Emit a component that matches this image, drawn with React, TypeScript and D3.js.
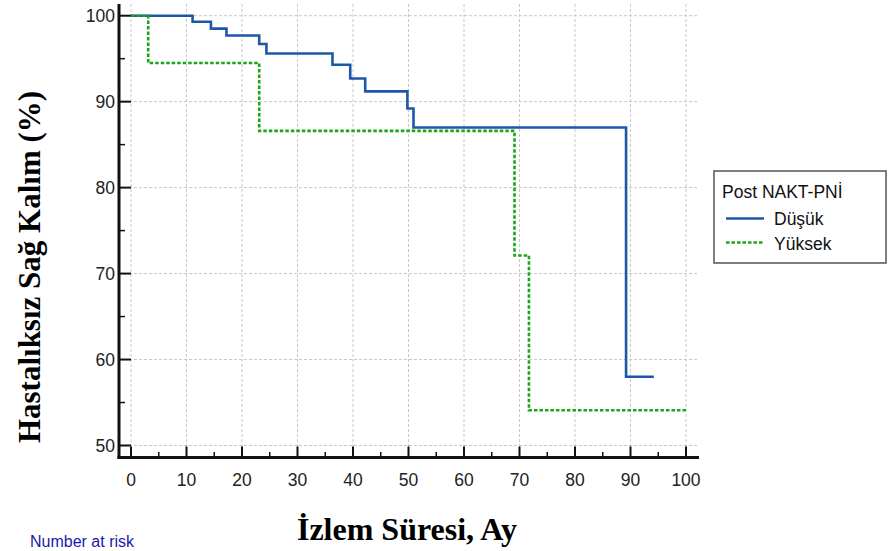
import React from "react";
import * as d3 from "d3";

// Kaplan-Meier step data (months, % survival)
const lowTimes = [0, 11.1, 14.4, 17.2, 23.1, 24.4, 36.3, 39.5, 42.2, 49.8, 50.9, 89.2, 94.2];
const lowValues = [100, 99.3, 98.5, 97.7, 96.7, 95.6, 94.3, 92.7, 91.2, 89.2, 87.0, 58.0, 58.0];
const highTimes = [0, 3.1, 23.1, 69.1, 71.7, 100];
const highValues = [100, 94.5, 86.6, 72.1, 54.1, 54.1];

const xTicks = [0, 10, 20, 30, 40, 50, 60, 70, 80, 90, 100];
const xMinor = [5, 15, 25, 35, 45, 55, 65, 75, 85, 95];
const yTicks = [50, 60, 70, 80, 90, 100];
const yMinor = [55, 65, 75, 85, 95];

const seriesNames = ["Düşük", "Yüksek"];
const legendTitle = "Post NAKT-PNİ";

const W = 890;
const H = 551;
const BLUE = "#1c58a8";
const GREEN = "#1ba51b";
const SANS = "'Liberation Sans', Arial, sans-serif";
const SERIF = "'Liberation Serif', 'Times New Roman', serif";

const App = () => {
    const x = d3.scaleLinear().domain([0, 100]).range([131, 686]);
    const y = d3.scaleLinear().domain([50, 100]).range([445.5, 15.7]);

    const axisX = 119;
    const axisY = 457.5;

    const step = d3
        .line<[number, number]>()
        .x((d) => x(d[0]))
        .y((d) => y(d[1]))
        .curve(d3.curveStepAfter);

    const lowPts = lowTimes.map((t, i) => [t, lowValues[i]] as [number, number]);
    const highPts = highTimes.map((t, i) => [t, highValues[i]] as [number, number]);

    return (
        <svg
            width={W}
            height={H}
            style={{ position: "absolute", left: 0, top: 0, background: "#fff" }}
        >
            {/* grid */}
            <g stroke="#c8c8c8" strokeWidth={1} strokeDasharray="3,2">
                {xTicks.map((t) => (
                    <line key={"gx" + t} x1={x(t)} x2={x(t)} y1={4} y2={axisY} />
                ))}
                {yTicks.map((t) => (
                    <line key={"gy" + t} x1={axisX} x2={697} y1={y(t)} y2={y(t)} />
                ))}
            </g>

            {/* axes */}
            <g stroke="#111" fill="none">
                <line x1={axisX} x2={axisX} y1={4} y2={axisY + 1.5} strokeWidth={3} />
                <line x1={axisX - 1.5} x2={699} y1={axisY} y2={axisY} strokeWidth={3} />
                {yTicks.map((t) => (
                    <line key={"ty" + t} x1={axisX} x2={131} y1={y(t)} y2={y(t)} strokeWidth={2} />
                ))}
                {yMinor.map((t) => (
                    <line key={"my" + t} x1={axisX} x2={125} y1={y(t)} y2={y(t)} strokeWidth={1.5} />
                ))}
                {xTicks.map((t) => (
                    <line key={"tx" + t} x1={x(t)} x2={x(t)} y1={axisY} y2={axisY - 11} strokeWidth={2} />
                ))}
                {xMinor.map((t) => (
                    <line key={"mx" + t} x1={x(t)} x2={x(t)} y1={axisY} y2={axisY - 5.5} strokeWidth={1.5} />
                ))}
            </g>

            {/* tick labels */}
            <g fontFamily={SANS} fontSize={17.5} fill="#222">
                {yTicks.map((t) => (
                    <text key={"ly" + t} x={115} y={y(t)} dy="0.35em" textAnchor="end">
                        {t}
                    </text>
                ))}
                {xTicks.map((t) => (
                    <text key={"lx" + t} x={x(t)} y={480} dy="0.35em" textAnchor="middle">
                        {t}
                    </text>
                ))}
            </g>

            {/* survival curves */}
            <path d={step(lowPts) || ""} fill="none" stroke={BLUE} strokeWidth={2.6} />
            <path
                d={step(highPts) || ""}
                fill="none"
                stroke={GREEN}
                strokeWidth={2.6}
                strokeDasharray="3.5,2"
            />

            {/* axis titles */}
            <text
                transform="translate(40,267) rotate(-90)"
                textAnchor="middle"
                fontFamily={SERIF}
                fontWeight="bold"
                fontSize={31}
                fill="#000"
            >
                Hastalıksız Sağ Kalım (%)
            </text>
            <text
                x={407}
                y={540}
                textAnchor="middle"
                fontFamily={SERIF}
                fontWeight="bold"
                fontSize={32}
                fill="#000"
            >
                İzlem Süresi, Ay
            </text>

            <text x={30} y={547} fontFamily={SANS} fontSize={16} fill="#1a1aa8">
                Number at risk
            </text>

            {/* legend */}
            <g fontFamily={SANS} fontSize={17.5} fill="#111">
                <rect x={714} y={171} width={172} height={92} fill="#fff" stroke="#555" strokeWidth={1.5} />
                <text x={722} y={192} dy="0.35em">
                    {legendTitle}
                </text>
                <line x1={726} x2={764} y1={218.5} y2={218.5} stroke={BLUE} strokeWidth={2.6} />
                <text x={774} y={219} dy="0.35em">
                    {seriesNames[0]}
                </text>
                <line
                    x1={726}
                    x2={764}
                    y1={242.5}
                    y2={242.5}
                    stroke={GREEN}
                    strokeWidth={2.6}
                    strokeDasharray="3.5,2"
                />
                <text x={774} y={244} dy="0.35em">
                    {seriesNames[1]}
                </text>
            </g>
        </svg>
    );
};

export default App;
